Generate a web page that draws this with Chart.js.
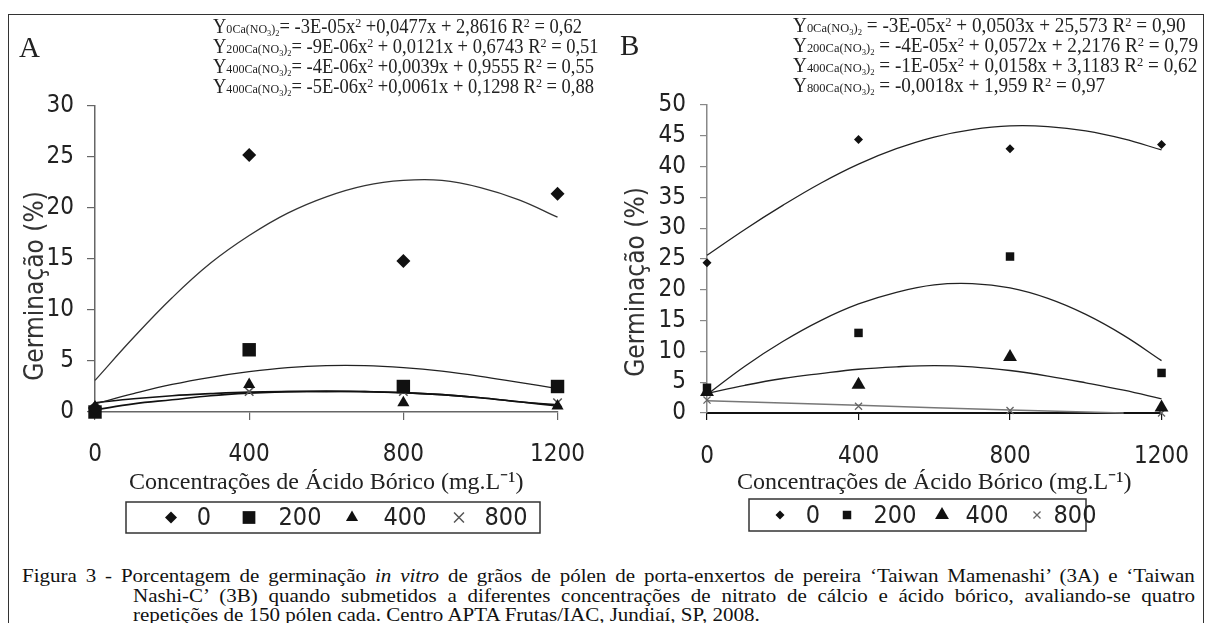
<!DOCTYPE html>
<html>
<head>
<meta charset="utf-8">
<script src="https://cdn.jsdelivr.net/npm/chart.js@4.4.1/dist/chart.umd.min.js"></script>
<style>
html,body{margin:0;padding:0;background:#fff;width:1211px;height:623px;overflow:hidden;position:relative;}
#frame{position:absolute;left:8px;top:14px;width:1196px;height:700px;border:1.5px solid #333;box-sizing:border-box;}
canvas{position:absolute;top:0;}
#cA{left:0;}
#cB{left:605px;}
.eq{position:absolute;font-family:'Liberation Serif','Times New Roman',serif;font-size:20px;color:#222;white-space:nowrap;line-height:20px;transform-origin:left center;}
.eqA{transform:scaleX(0.925);}
.eqB{transform:scaleX(0.96);}
.eq .s{font-size:13px;}
.eq .ss{font-size:9px;vertical-align:-3px;}
.eq sup{font-size:13px;vertical-align:6px;line-height:0;}
.pl{position:absolute;font-family:'Liberation Serif','Times New Roman',serif;font-size:29px;color:#222;line-height:30px;}
.cap{position:absolute;font-family:'Liberation Serif','Times New Roman',serif;font-size:18px;color:#111;line-height:20px;transform-origin:left top;transform:scaleX(1.167);text-align:justify;text-align-last:justify;}
.cap.last{text-align:left;text-align-last:left;white-space:nowrap;}
</style>
</head>
<body>
<div id="frame"></div>
<canvas id="cA" width="605" height="560"></canvas>
<canvas id="cB" width="606" height="560"></canvas>

<div class="pl" style="left:19px;top:32px;">A</div>
<div class="pl" style="left:620px;top:30px;">B</div>

<div class="eq eqA" style="left:213px;top:16px;">Y<span class="s">0Ca(NO<span class="ss">3</span>)<span class="ss">2</span></span>= -3E-05x<sup>2</sup> +0,0477x + 2,8616 R<sup>2</sup> = 0,62</div>
<div class="eq eqA" style="left:213px;top:36px;">Y<span class="s">200Ca(NO<span class="ss">3</span>)<span class="ss">2</span></span>= -9E-06x<sup>2</sup> + 0,0121x + 0,6743 R<sup>2</sup> = 0,51</div>
<div class="eq eqA" style="left:213px;top:56px;">Y<span class="s">400Ca(NO<span class="ss">3</span>)<span class="ss">2</span></span>= -4E-06x<sup>2</sup> +0,0039x + 0,9555 R<sup>2</sup> = 0,55</div>
<div class="eq eqA" style="left:213px;top:76px;">Y<span class="s">400Ca(NO<span class="ss">3</span>)<span class="ss">2</span></span>= -5E-06x<sup>2</sup> +0,0061x + 0,1298 R<sup>2</sup> = 0,88</div>

<div class="eq eqB" style="left:793px;top:15px;">Y<span class="s">0Ca(NO<span class="ss">3</span>)<span class="ss">2</span></span> = -3E-05x<sup>2</sup> + 0,0503x + 25,573 R<sup>2</sup> = 0,90</div>
<div class="eq eqB" style="left:793px;top:35px;">Y<span class="s">200Ca(NO<span class="ss">3</span>)<span class="ss">2</span></span> = -4E-05x<sup>2</sup> + 0,0572x + 2,2176 R<sup>2</sup> = 0,79</div>
<div class="eq eqB" style="left:793px;top:55px;">Y<span class="s">400Ca(NO<span class="ss">3</span>)<span class="ss">2</span></span> = -1E-05x<sup>2</sup> + 0,0158x + 3,1183 R<sup>2</sup> = 0,62</div>
<div class="eq eqB" style="left:793px;top:75px;">Y<span class="s">800Ca(NO<span class="ss">3</span>)<span class="ss">2</span></span> = -0,0018x + 1,959 R<sup>2</sup> = 0,97</div>

<div class="cap" style="left:22px;top:566px;width:1005px;">Figura 3 - Porcentagem de germinação <i>in vitro</i> de grãos de pólen de porta-enxertos de pereira ‘Taiwan Mamenashi’ (3A) e ‘Taiwan</div>
<div class="cap" style="left:133px;top:586px;width:910px;">Nashi-C’ (3B) quando submetidos a diferentes concentrações de nitrato de cálcio e ácido bórico, avaliando-se quatro</div>
<div class="cap last" style="left:133px;top:605px;">repetições de 150 pólen cada. Centro APTA Frutas/IAC, Jundiaí, SP, 2008.</div>

<script>
// ---------- data ----------
const concentrations = [0, 400, 800, 1200];
const xTickValues = [0, 400, 800, 1200];
const yTicksA = [0, 5, 10, 15, 20, 25, 30];
const yTicksB = [0, 5, 10, 15, 20, 25, 30, 35, 40, 45, 50];
const seriesNames = ['0', '200', '400', '800'];

// Panel A observed germination (%)
const A_0   = [0.4, 25.2, 14.8, 21.4];
const A_200 = [0.0, 6.1, 2.5, 2.5];
const A_400 = [0.5, 2.7, 0.9, 0.6];
const A_800 = [0.3, 2.0, 2.0, 0.9];

// Panel B observed germination (%)
const B_0   = [24.4, 44.4, 42.9, 43.6];
const B_200 = [4.1, 13.0, 25.4, 6.5];
const B_400 = [3.4, 4.6, 9.1, 0.9];
const B_800 = [2.1, 1.1, 0.4, 0.0];

// Trend curves
const trendX = [0, 100, 200, 300, 400, 500, 600, 700, 800, 900, 1000, 1100, 1200];
const A_fit0   = [3.1, 7.3, 11.2, 14.6, 17.3, 19.5, 21.1, 22.2, 22.7, 22.7, 22.0, 20.8, 19.1];
const A_fit200 = [0.8, 1.8, 2.7, 3.4, 3.95, 4.35, 4.55, 4.55, 4.35, 4.0, 3.5, 2.9, 2.3];
const A_fit400 = [0.9, 1.3, 1.6, 1.8, 1.95, 2.0, 2.0, 2.0, 1.9, 1.7, 1.4, 1.0, 0.6];
const A_fit800 = [0.2, 0.8, 1.2, 1.6, 1.85, 2.0, 2.05, 2.0, 1.9, 1.7, 1.4, 1.0, 0.7];
const B_fit0   = [25.6, 29.8, 33.7, 37.3, 40.4, 42.9, 44.8, 46.0, 46.6, 46.5, 45.8, 44.5, 42.7];
const B_fit200 = [3.0, 7.6, 11.6, 15.0, 17.7, 19.6, 20.8, 21.0, 20.3, 18.6, 16.0, 12.6, 8.5];
const B_fit400 = [3.2, 4.5, 5.6, 6.4, 7.1, 7.5, 7.7, 7.5, 6.9, 6.0, 4.9, 3.7, 2.3];
const B_fit800X = [0, 400, 800, 1100];
const B_fit800  = [2.0, 1.25, 0.5, 0.0];

// ---------- helpers ----------
const SANS = "'Liberation Sans Narrow', 'DejaVu Sans Condensed', sans-serif";
const SERIF = "'Liberation Serif', 'Times New Roman', serif";
const pts = (xs, ys) => xs.map((x, i) => ({x: x, y: ys[i]}));

function drawSym(ctx, style, r, x, y, bw) {
  if (Chart.helpers && Chart.helpers.drawPoint) {
    Chart.helpers.drawPoint(ctx, {pointStyle: style, radius: r, rotation: 0, borderWidth: bw}, x, y);
    return;
  }
  ctx.beginPath();
  if (style === 'rectRot') { ctx.moveTo(x - r, y); ctx.lineTo(x, y - r); ctx.lineTo(x + r, y); ctx.lineTo(x, y + r); ctx.closePath(); ctx.fill(); }
  else if (style === 'rect') { const s = r * Math.SQRT1_2; ctx.rect(x - s, y - s, 2 * s, 2 * s); ctx.fill(); }
  else if (style === 'triangle') { ctx.moveTo(x, y - r); ctx.lineTo(x + r * 0.866, y + r / 2); ctx.lineTo(x - r * 0.866, y + r / 2); ctx.closePath(); ctx.fill(); }
  else { const d = r * Math.SQRT1_2; ctx.moveTo(x - d, y - d); ctx.lineTo(x + d, y + d); ctx.moveTo(x + d, y - d); ctx.lineTo(x - d, y + d); ctx.stroke(); }
}

const decor = {
  id: 'decor',
  afterDraw(chart, args, o) {
    const ctx = chart.ctx;
    ctx.save();
    ctx.fillStyle = '#333';
    ctx.font = o.yTitleSize + 'px ' + SANS;
    ctx.translate(o.yTitleX, o.yTitleY);
    ctx.rotate(-Math.PI / 2);
    ctx.textAlign = 'center';
    ctx.textBaseline = 'middle';
    ctx.fillText(o.yTitle, 0, 0);
    ctx.restore();

    const [l, t, r, b] = o.box;
    ctx.save();
    ctx.strokeStyle = '#333';
    ctx.lineWidth = 1.5;
    ctx.strokeRect(l, t, r - l, b - t);
    const cy = (t + b) / 2;
    chart.data.datasets.filter(d => d.isSeries).forEach((ds, i) => {
      ctx.fillStyle = ds.pointBackgroundColor;
      ctx.strokeStyle = ds.pointBorderColor;
      ctx.lineWidth = ds.pointBorderWidth;
      drawSym(ctx, ds.pointStyle, ds.legendRadius, o.symX[i], cy, ds.pointBorderWidth);
      ctx.fillStyle = '#222';
      ctx.font = o.fontSize + 'px ' + SANS;
      ctx.textAlign = 'center';
      ctx.textBaseline = 'middle';
      ctx.fillText(ds.label, o.txtX[i], cy + 1);
    });
    ctx.restore();
  }
};

function series(label, ys, style, r, lr, color, bw) {
  return {
    label: label, isSeries: true, data: pts(concentrations, ys), showLine: false,
    pointStyle: style, pointRadius: r, pointHoverRadius: r, legendRadius: lr,
    pointBackgroundColor: color, pointBorderColor: color, pointBorderWidth: bw,
    backgroundColor: color, borderColor: color, clip: false, order: 0
  };
}
function trend(xs, ys, color, w) {
  return {
    label: '', isSeries: false, data: pts(xs, ys), showLine: true, tension: 0.4,
    pointRadius: 0, pointHoverRadius: 0, borderColor: color, borderWidth: w,
    backgroundColor: color, fill: false, clip: false, order: 1
  };
}

function makeChart(id, cfg) {
  return new Chart(document.getElementById(id), {
    type: 'scatter',
    data: {datasets: cfg.datasets},
    options: {
      responsive: false, animation: false, events: [],
      layout: {padding: cfg.padding},
      plugins: {legend: {display: false}, tooltip: {enabled: false}, decor: cfg.decor},
      scales: {
        x: {
          type: 'linear', min: 0, max: 1200,
          afterBuildTicks: s => { s.ticks = xTickValues.map(v => ({value: v})); },
          afterFit: s => { s.height = cfg.xHeight; },
          grid: {display: true, drawOnChartArea: false, drawTicks: true, tickLength: cfg.tickLen, color: cfg.xColor, lineWidth: 1.2},
          border: {display: true, color: cfg.xColor, width: cfg.xWidth},
          ticks: {font: {family: SANS, size: 24}, color: '#222', padding: cfg.xTickPad, maxRotation: 0, autoSkip: false,
                  callback: v => String(v)},
          title: {display: true, text: 'Concentrações de Ácido Bórico (mg.L⁻¹)', font: {family: SERIF, size: 24}, color: '#222', padding: {top: 0, bottom: cfg.xTitlePad}}
        },
        y: {
          type: 'linear', min: 0, max: cfg.yMax,
          afterBuildTicks: s => { s.ticks = cfg.yTicks.map(v => ({value: v})); },
          afterFit: s => { s.width = cfg.yWidth; },
          grid: {display: true, drawOnChartArea: false, drawTicks: true, tickLength: cfg.tickLen, color: cfg.yColor, lineWidth: 1.2},
          border: {display: true, color: cfg.yColor, width: 1.5},
          ticks: {font: {family: SANS, size: 24}, color: '#222', padding: cfg.yTickPad, autoSkip: false,
                  callback: v => String(v)},
          title: {display: false}
        }
      }
    },
    plugins: [decor]
  });
}

makeChart('cA', {
  datasets: [
    series(seriesNames[0], A_0, 'rectRot', 7, 6, '#111', 0),
    series(seriesNames[1], A_200, 'rect', 9.5, 9, '#111', 0),
    series(seriesNames[2], A_400, 'triangle', 7, 7, '#111', 0),
    series(seriesNames[3], A_800, 'crossRot', 6, 7, '#555', 1.5),
    trend(trendX, A_fit0, '#333', 1.3),
    trend(trendX, A_fit200, '#222', 1.3),
    trend(trendX, A_fit400, '#111', 1.6),
    trend(trendX, A_fit800, '#111', 1.6)
  ],
  padding: {top: 106, right: 28, left: 0, bottom: 0},
  xHeight: 148, yWidth: 95, yMax: 30, yTicks: yTicksA, tickLen: 8,
  xColor: '#666', xWidth: 1.5, yColor: '#666',
  xTickPad: 20, yTickPad: 13, xTitlePad: 63,
  decor: {yTitle: 'Germinação (%)', yTitleSize: 26, yTitleX: 36, yTitleY: 286,
          box: [126, 502, 540, 533], symX: [171, 249, 352, 459], txtX: [204, 300, 405, 506], fontSize: 25}
});

makeChart('cB', {
  datasets: [
    series(seriesNames[0], B_0, 'rectRot', 4.5, 4.5, '#111', 0),
    series(seriesNames[1], B_200, 'rect', 6, 6, '#111', 0),
    series(seriesNames[2], B_400, 'triangle', 8, 8, '#111', 0),
    series(seriesNames[3], B_800, 'crossRot', 5, 5, '#666', 1.3),
    trend(trendX, B_fit0, '#222', 1.3),
    trend(trendX, B_fit200, '#222', 1.3),
    trend(trendX, B_fit400, '#222', 1.3),
    trend(B_fit800X, B_fit800, '#777', 1.5)
  ],
  padding: {top: 105, right: 28, left: 0, bottom: 0},
  xHeight: 147, yWidth: 102, yMax: 50, yTicks: yTicksB, tickLen: 7,
  xColor: '#111', xWidth: 2, yColor: '#888',
  xTickPad: 22, yTickPad: 14, xTitlePad: 63,
  decor: {yTitle: 'Germinação (%)', yTitleSize: 26, yTitleX: 32, yTitleY: 282,
          box: [144, 499, 481, 531], symX: [175, 242, 337, 432], txtX: [208, 290, 382, 470], fontSize: 25}
});
</script>
</body>
</html>
